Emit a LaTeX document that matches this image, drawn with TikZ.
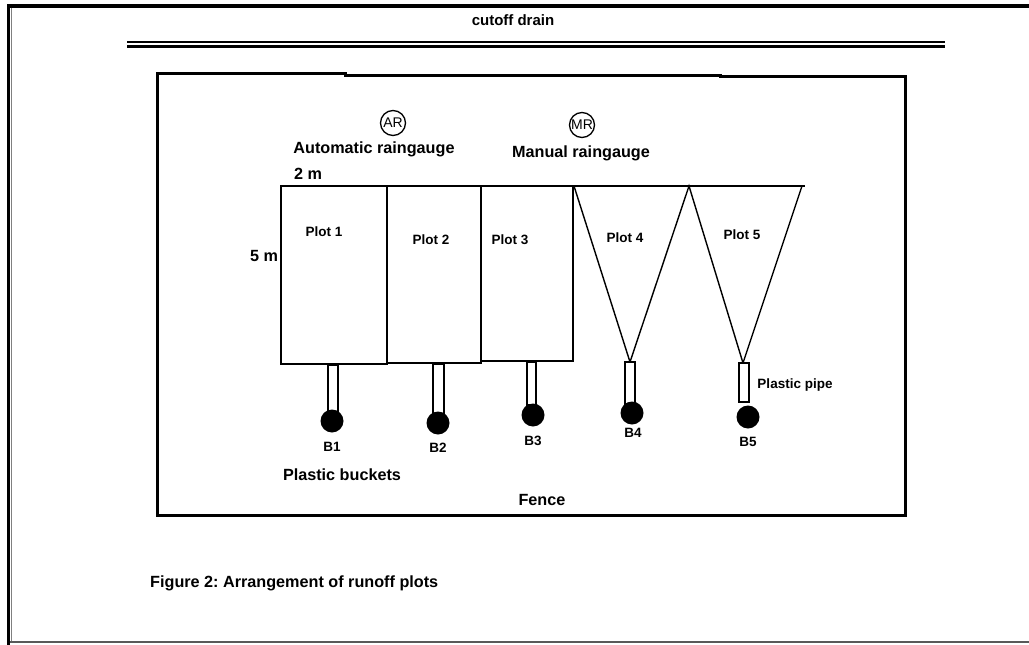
\documentclass[tikz,border=0pt]{standalone}
\usepackage{fontspec}
\setmainfont{Liberation Sans}
\frenchspacing
\begin{document}
\begin{tikzpicture}[x=1pt,y=-1pt,
  big/.style={font=\fontsize{16.2}{19}\selectfont\bfseries, inner sep=0pt},
  small/.style={font=\fontsize{13.5}{16}\selectfont\bfseries, inner sep=0pt},
  plotline/.style={line width=2.4pt},
  thinline/.style={line width=1.4pt},
  gauge/.style={circle, draw, line width=1.3pt, minimum size=25pt, inner sep=0pt, font=\fontsize{14}{16}\selectfont},
  bucket/.style={circle, fill=black, minimum size=23pt, inner sep=0pt},
  pipe/.style={draw, line width=1.3pt, fill=white}]
\useasboundingbox (0,0) rectangle (1029,645);
% page frame
\draw[line width=4pt] (8,5.5) -- (1029,5.5);
\draw[line width=3.5pt] (8.5,4) -- (8.5,645);
\draw[line width=0.8pt, gray] (11.5,8) -- (11.5,641);
\draw[line width=2pt, black!65] (10,642) -- (1029,642);
% cutoff drain
\node[big, font=\fontsize{15}{18}\selectfont\bfseries] (cd) at (513,20) {cutoff drain};
\draw[line width=2.5pt] (127,42) -- (945,42);
\draw[line width=2.5pt] (127,46.5) -- (945,46.5);
% fence
\draw[line width=3pt] (157,73) -- (345,73) -- (345,75) -- (720,75) -- (720,76) -- (905,76) -- (905,515) -- (157,515) -- cycle;
\node[big] (fence) at (542,500) {Fence};
% rain gauges
\node[gauge] (ar) at (393,123) {AR};
\node[gauge] (mr) at (582,125) {MR};
\node[big] (arl) at (374,149) {Automatic raingauge};
\node[big] (mrl) at (581,153) {Manual raingauge};
\node[big] (w) at (308,174) {2 m};
\node[big] (h) at (264,256) {5 m};
% rectangular plots
\draw[plotline] (281,186) rectangle (387,364);
\draw[plotline] (387,186) rectangle (481,363);
\draw[plotline] (481,186) rectangle (573,361);
% triangular plots
\draw[plotline] (573,186) -- (805,186);
\draw[thinline] (574,186) -- (630,362) -- (689,186) -- (743,363) -- (802,186);
\node[small] (p1) at (324,232) {Plot 1};
\node[small] (p2) at (431,240) {Plot 2};
\node[small] (p3) at (510,240) {Plot 3};
\node[small] (p4) at (625,238) {Plot 4};
\node[small] (p5) at (742,235) {Plot 5};
% pipes
\draw[pipe] (328,365) rectangle (338,412);
\draw[pipe] (433,364) rectangle (444,414);
\draw[pipe] (527,362) rectangle (536,405);
\draw[pipe] (625,362) rectangle (635,404);
\draw[pipe] (739,363) rectangle (749,402);
% buckets
\node[bucket] (b1) at (332,421) {};
\node[bucket] (b2) at (438,423) {};
\node[bucket] (b3) at (533,415) {};
\node[bucket] (b4) at (632,413) {};
\node[bucket] (b5) at (748,417) {};
\node[small] (l1) at (332,447) {B1};
\node[small] (l2) at (438,448) {B2};
\node[small] (l3) at (533,441) {B3};
\node[small] (l4) at (633,433) {B4};
\node[small] (l5) at (748,442) {B5};
\node[small] (pp) at (795,385) {Plastic pipe};
\node[big] (pb) at (342,475) {Plastic buckets};
% caption
\node[big, anchor=west] (cap) at (150,583) {Figure 2: Arrangement of runoff plots};
\end{tikzpicture}
\end{document}
